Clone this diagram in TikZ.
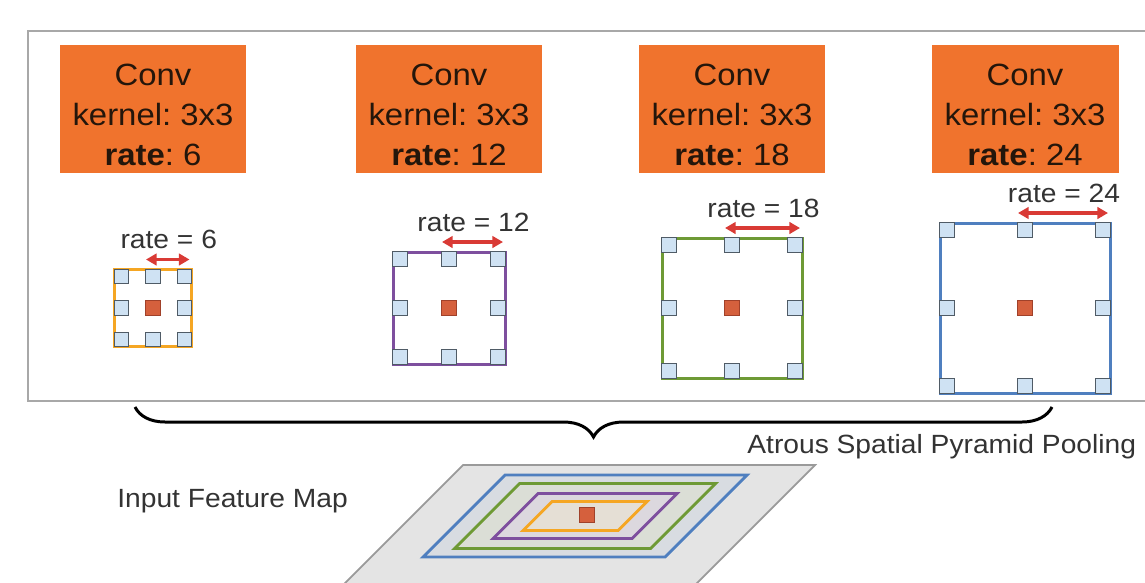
\documentclass[tikz,border=0pt]{standalone}
\usepackage{fontspec}
\setmainfont[FakeStretch=1.07]{Liberation Sans}
\usetikzlibrary{arrows.meta,decorations.pathreplacing}
\definecolor{convorange}{HTML}{F0732D}
\definecolor{boxtext}{HTML}{24160B}
\definecolor{labtext}{HTML}{333333}
\definecolor{korange}{HTML}{F5A623}
\definecolor{kpurple}{HTML}{7E4F9E}
\definecolor{kgreen}{HTML}{6E9A35}
\definecolor{kblue}{HTML}{4F7FBF}
\definecolor{tapfill}{HTML}{CFE2F3}
\definecolor{tapedge}{HTML}{4F5B66}
\definecolor{ctrfill}{HTML}{D5603D}
\definecolor{ctredge}{HTML}{A0412A}
\definecolor{arrowred}{HTML}{D93A35}
\definecolor{panelgray}{HTML}{A8A8A8}
\definecolor{mapfill}{HTML}{E4E4E4}
\definecolor{mapedge}{HTML}{9A9A9A}
\newcommand{\boxfont}{\fontsize{17.5}{23}\selectfont}
\newcommand{\labfont}{\fontsize{15}{18}\selectfont}
\frenchspacing

\begin{document}
\begin{tikzpicture}[x=0.02cm, y=-0.02cm,
convbox/.style={fill=convorange, text=boxtext, minimum width=3.74cm, minimum height=2.56cm, text height=65pt, align=center, inner sep=0pt, font=\boxfont}, % conv layer boxes
tap/.style={draw=tapedge, fill=tapfill, line width=0.7pt, minimum size=0.29cm, inner sep=0pt}, % sampled positions
ctr/.style={tap, draw=ctredge, fill=ctrfill}, % centre position
kframe/.style={line width=1.7pt}, % kernel outline
lab/.style={text=labtext, font=\labfont, inner sep=0pt, anchor=base}, % plain labels
ratearrow/.style={draw=arrowred, line width=1.8pt, {Triangle[length=6pt,width=6.5pt]}-{Triangle[length=6pt,width=6.5pt]}}, % dilation span
ring/.style={line width=1.6pt} % projected kernel extents
]

\clip (0,0) rectangle (1145,582);
\fill[white] (0,0) rectangle (1145,582);

% outer panel
\draw[draw=panelgray, line width=1.1pt] (28,31) rectangle (1160,401);

% one column per rate
\foreach \r/\cx/\s/\col in {6/153/77/korange,12/449/112/kpurple,18/732/140/kgreen,24/1025/170/kblue}{
  \pgfmathsetmacro{\h}{\s/2}
  \pgfmathsetmacro{\d}{\h-7}
  \node[convbox] (conv\r) at (\cx,109) {Conv\\kernel: 3x3\\\textbf{rate}: \r};
  \draw[kframe, draw=\col] ({\cx-\h},{308-\h}) rectangle ({\cx+\h},{308+\h});
  \foreach \i in {-1,0,1}
    \foreach \j in {-1,0,1}{
      \pgfmathparse{abs(\i)+abs(\j)>0 ? 1 : 0}
      \ifnum\pgfmathresult=1
        \node[tap] (tap\r\i\j) at ({\cx+\i*\d},{308+\j*\d}) {};
      \fi
    }
  \node[ctr] (c\r) at (\cx,308) {};
  \coordinate (ra\r) at ({\cx-7},{308-\h-10});
  \coordinate (rb\r) at ({\cx+\h-2},{308-\h-10});
  \draw[ratearrow] (ra\r) -- (rb\r);
  \node[lab] (rate\r) at ({\cx+(\h-9)/2+1},{308-\h-21}) {rate = \r};
}

% brace over the four branches
\coordinate (bl) at (135,407);
\coordinate (br) at (1052,407);
\draw[decorate, decoration={brace, mirror, amplitude=0.6cm}, line width=1.7pt] (bl) -- (br);
\node[lab, anchor=base west] (aspp) at (747,453) {Atrous Spatial Pyramid Pooling};

% feature map seen in perspective
\filldraw[fill=mapfill, draw=mapedge, line width=1pt] (463,465) -- (815,465) -- (660,620) -- (308,620) -- cycle;
\foreach \a/\b/\col in {121/41/kblue, 98/32.5/kgreen, 69.5/22.5/kpurple, 47.5/14.5/korange}
  \filldraw[ring, draw=\col, fill=\col!8!mapfill] ({585-\a+\b},{516-\b}) -- ({585+\a+\b},{516-\b}) -- ({585+\a-\b},{516+\b}) -- ({585-\a-\b},{516+\b}) -- cycle;
\node[ctr] (mapc) at (587,515) {};
\node[lab, anchor=base west] (inmap) at (117,507) {Input Feature Map};

\end{tikzpicture}
\end{document}
